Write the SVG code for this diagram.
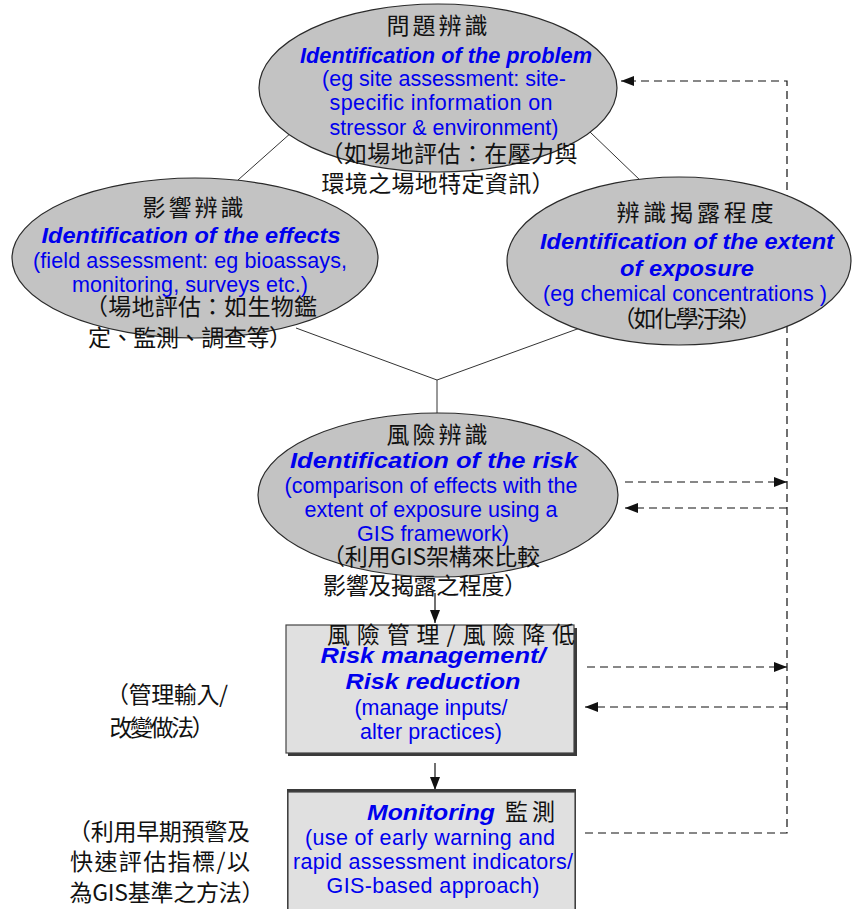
<svg xmlns="http://www.w3.org/2000/svg" width="856" height="909" viewBox="0 0 856 909">
<defs>
<style>
.ell{fill:#c3c3c3;stroke:#2a2a2a;stroke-width:1.2}
.box{fill:#e0e0e0;stroke:#444;stroke-width:1.2}
.shadow{fill:#3a3a3a}
.ln{stroke:#333;stroke-width:1;fill:none}
.dash{stroke:#111;stroke-width:1.2;fill:none;stroke-dasharray:8 5}
.arr{stroke:#111;stroke-width:1.2;fill:none}
.zh{font-family:"Noto Sans CJK TC","Noto Sans CJK SC",sans-serif;font-size:23px;fill:#111;text-anchor:middle}
.ti{font-family:"Liberation Sans",Arial,sans-serif;font-size:22px;font-weight:bold;font-style:italic;fill:#0000ee;text-anchor:middle}
.en{font-family:"Liberation Sans",Arial,sans-serif;font-size:21.5px;fill:#0000ee;text-anchor:middle}
</style>
<marker id="ah" markerUnits="userSpaceOnUse" markerWidth="13" markerHeight="10" refX="13" refY="5" orient="auto">
<path d="M0,0 L13,5 L0,10 z" fill="#111" stroke="none"/>
</marker>
</defs>
<rect width="856" height="909" fill="#fff"/>

<g id="connectors">
<line class="ln" x1="292" y1="132" x2="238" y2="180"/>
<line class="ln" x1="590" y1="132" x2="642" y2="182"/>
<line class="ln" x1="296" y1="328" x2="437" y2="380"/>
<line class="ln" x1="580" y1="328" x2="437" y2="380"/>
<line class="ln" x1="437" y1="380" x2="437" y2="414"/>
<line class="arr" x1="435" y1="593" x2="435" y2="623" marker-end="url(#ah)"/>
<line class="arr" x1="435" y1="763" x2="435" y2="790" marker-end="url(#ah)"/>
<polyline class="dash" points="585,833 787,833 787,81 621,81" marker-end="url(#ah)"/>
<line class="dash" x1="625" y1="482" x2="787" y2="482" marker-end="url(#ah)"/>
<line class="dash" x1="787" y1="508" x2="625" y2="508" marker-end="url(#ah)"/>
<line class="dash" x1="587" y1="667" x2="787" y2="667" marker-end="url(#ah)"/>
<line class="dash" x1="787" y1="707" x2="585" y2="707" marker-end="url(#ah)"/>
</g>

<g id="problem">
<ellipse class="ell" cx="438" cy="88" rx="179" ry="84"/>
<text class="zh" x="437" y="34" textLength="101">問題辨識</text>
<text class="ti" x="446" y="63" textLength="292" lengthAdjust="spacingAndGlyphs">Identification of the problem</text>
<text class="en" x="444" y="86" textLength="244">(eg site assessment: site-</text>
<text class="en" x="441" y="110" textLength="223">specific information on</text>
<text class="en" x="444" y="135" textLength="229">stressor &amp; environment)</text>
<text class="zh" x="449" y="162" textLength="257">（如場地評估：在壓力與</text>
<text class="zh" x="438" y="192" textLength="233">環境之場地特定資訊）</text>
</g>

<g id="effects">
<ellipse class="ell" cx="195" cy="258" rx="183" ry="80"/>
<text class="zh" x="193" y="216" textLength="101">影響辨識</text>
<text class="ti" x="191" y="243" textLength="299" lengthAdjust="spacingAndGlyphs">Identification of the effects</text>
<text class="en" x="190" y="268" textLength="314">(field assessment: eg bioassays,</text>
<text class="en" x="190" y="292" textLength="236">monitoring, surveys etc.)</text>
<text class="zh" x="201" y="315" textLength="232">（場地評估：如生物鑑</text>
<text class="zh" x="190" y="346" textLength="204">定、監測、調查等）</text>
</g>

<g id="exposure">
<ellipse class="ell" cx="679" cy="261" rx="172" ry="84"/>
<text class="zh" x="695" y="221" textLength="157">辨識揭露程度</text>
<text class="ti" x="687" y="249" textLength="294" lengthAdjust="spacingAndGlyphs">Identification of the extent</text>
<text class="ti" x="687" y="276" textLength="134" lengthAdjust="spacingAndGlyphs">of exposure</text>
<text class="en" x="685" y="301" textLength="284">(eg chemical concentrations )</text>
<text class="zh" x="687" y="327" textLength="149">（如化學汙染）</text>
</g>

<g id="risk">
<ellipse class="ell" cx="438" cy="495" rx="180" ry="82"/>
<text class="zh" x="437" y="443" textLength="101">風險辨識</text>
<text class="ti" x="434" y="468" textLength="288" lengthAdjust="spacingAndGlyphs">Identification of the risk</text>
<text class="en" x="431" y="493" textLength="293">(comparison of effects with the</text>
<text class="en" x="431" y="517" textLength="253">extent of exposure using a</text>
<text class="en" x="433" y="541" textLength="152">GIS framework)</text>
<text class="zh" x="431" y="565" textLength="218">（利用GIS架構來比較</text>
<text class="zh" x="425" y="594" textLength="204">影響及揭露之程度）</text>
</g>

<g id="management">
<rect class="shadow" x="288" y="628" width="289" height="128"/>
<rect class="box" x="286" y="625" width="288" height="128"/>
<text class="zh" x="451" y="643" textLength="248">風險管理/風險降低</text>
<text class="ti" x="433" y="663" textLength="225" lengthAdjust="spacingAndGlyphs">Risk management/</text>
<text class="ti" x="433" y="689" textLength="175" lengthAdjust="spacingAndGlyphs">Risk reduction</text>
<text class="en" x="431" y="715" textLength="153">(manage inputs/</text>
<text class="en" x="431" y="739" textLength="142">alter practices)</text>
</g>

<g id="management-note">
<text class="zh" x="167" y="703" textLength="122">（管理輸入/</text>
<text class="zh" x="162" y="736" textLength="105">改變做法）</text>
</g>

<g id="monitoring">
<rect class="shadow" x="287" y="789" width="289" height="125"/>
<rect class="box" x="288" y="792" width="287" height="125"/>
<text class="ti" x="431" y="820" textLength="128" lengthAdjust="spacingAndGlyphs">Monitoring</text>
<text class="zh" x="530" y="820" textLength="50">監測</text>
<text class="en" x="430" y="845" textLength="250">(use of  early warning and</text>
<text class="en" x="433" y="869" textLength="280">rapid assessment indicators/</text>
<text class="en" x="433" y="893" textLength="213">GIS-based approach)</text>
</g>

<g id="monitoring-note">
<text class="zh" x="159" y="840" textLength="182">（利用早期預警及</text>
<text class="zh" x="160" y="870" textLength="180">快速評估指標/以</text>
<text class="zh" x="167" y="901" textLength="195">為GIS基準之方法）</text>
</g>
</svg>
